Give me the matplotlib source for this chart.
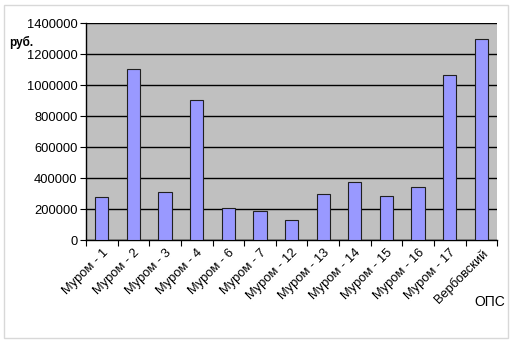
import matplotlib.pyplot as plt
import matplotlib as mpl
import numpy as np
from matplotlib.patches import Rectangle

mpl.rc('font', family='Liberation Sans', size=9.3)

categories = ['Муром - 1', 'Муром - 2', 'Муром - 3', 'Муром - 4', 'Муром - 6',
              'Муром - 7', 'Муром - 12', 'Муром - 13', 'Муром - 14', 'Муром - 15',
              'Муром - 16', 'Муром - 17', 'Вербовский']
values = [280000, 1105000, 308000, 904000, 205000, 187000, 127000,
          295000, 377000, 286000, 344000, 1064000, 1297000]
yticks = [0, 200000, 400000, 600000, 800000, 1000000, 1200000, 1400000]

fig = plt.figure(figsize=(5.12, 3.41), dpi=100)
ax = fig.add_axes([0.168, 0.296, 0.803, 0.636])
ax.set_facecolor('#c0c0c0')

x = np.arange(len(categories))
ax.bar(x, values, width=0.42, color='#9999ff', edgecolor='#202020',
       linewidth=0.8, zorder=3)

ax.set_ylim(0, 1400000)
ax.set_xlim(-0.5, len(categories) - 0.5)
ax.set_yticks(yticks)
ax.set_yticklabels([str(v) for v in yticks])
ax.yaxis.grid(True, color='black', linewidth=1, zorder=1)
ax.set_axisbelow(True)

# тики по границам категорий
ax.set_xticks(np.arange(len(categories) + 1) - 0.5)
ax.set_xticklabels([])
ax.set_xticks(x, minor=True)
ax.set_xticklabels(categories, minor=True, rotation=45, ha='right',
                   rotation_mode='anchor')
ax.tick_params(axis='x', which='minor', length=0, pad=5)
ax.tick_params(axis='x', which='major', length=4, width=0.8, direction='out')
ax.tick_params(axis='y', length=4, width=0.8, direction='out', pad=2)

for s in ['top', 'right']:
    ax.spines[s].set_visible(False)
ax.spines['left'].set_linewidth(1)
ax.spines['bottom'].set_linewidth(1)

fig.text(0.018, 0.865, 'руб.', fontweight='bold', fontsize=8.5)
fig.text(0.926, 0.103, 'ОПС', fontsize=10)

fig.patches.append(Rectangle((0.008, 0.01), 0.984, 0.975,
                             transform=fig.transFigure, fill=False,
                             edgecolor='#d8d8d8', linewidth=1))

fig.savefig('out.png', dpi=100)
